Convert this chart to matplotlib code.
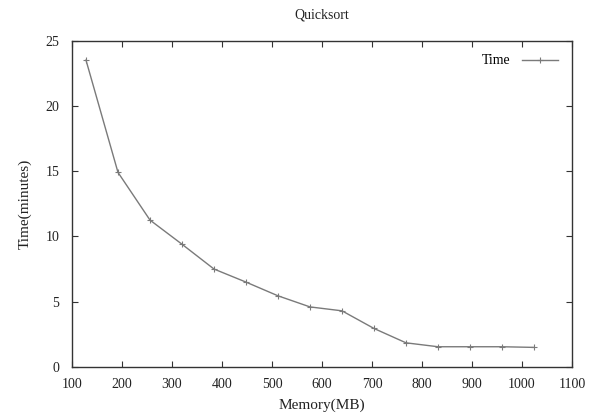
import matplotlib
matplotlib.use("Agg")
import matplotlib.pyplot as plt

# quicksort run time against available memory
memory_mb = [128, 192, 256, 320, 384, 448, 512, 576, 640, 704, 768, 832, 896, 960, 1024]
time_min = [23.5, 14.9, 11.25, 9.4, 7.5, 6.5, 5.45, 4.6, 4.3, 2.95, 1.85, 1.55, 1.55, 1.55, 1.5]

x_ticks = list(range(100, 1101, 100))
y_ticks = list(range(0, 26, 5))

plt.rcParams['font.family'] = ['Liberation Serif', 'DejaVu Serif']
plt.rcParams['font.size'] = 10

fig = plt.figure(figsize=(5.92, 4.15), dpi=100)
ax = fig.add_axes([0.1216, 0.1157, 0.8446, 0.7867])

ax.plot(memory_mb, time_min, color='#7a7a7a', linewidth=1.0,
        marker='+', markersize=4, markeredgewidth=0.8, label='Time')

ax.set_xlim(100, 1100)
ax.set_ylim(0, 25)
ax.set_xticks(x_ticks)
ax.set_yticks(y_ticks)
ax.tick_params(direction='in', length=4, width=0.8, top=True, right=True,
               labeltop=False, labelright=False, colors='#333333', labelcolor='#222222')
ax.tick_params(axis='x', pad=8)
ax.tick_params(axis='y', pad=9)
for side in ax.spines.values():
    side.set_linewidth(1.0)
    side.set_color('#333333')

ax.set_title('Quicksort', fontsize=10, pad=16, color='#222222')
ax.set_xlabel('Memory(MB)', fontsize=11, labelpad=5, color='#222222')
ax.set_ylabel('Time(minutes)', fontsize=11, labelpad=10, color='#222222')

ax.legend(loc='upper right', frameon=False, markerfirst=False,
          handlelength=2.6, borderaxespad=0.6, handletextpad=0.8)

fig.savefig('out.png', dpi=100)
